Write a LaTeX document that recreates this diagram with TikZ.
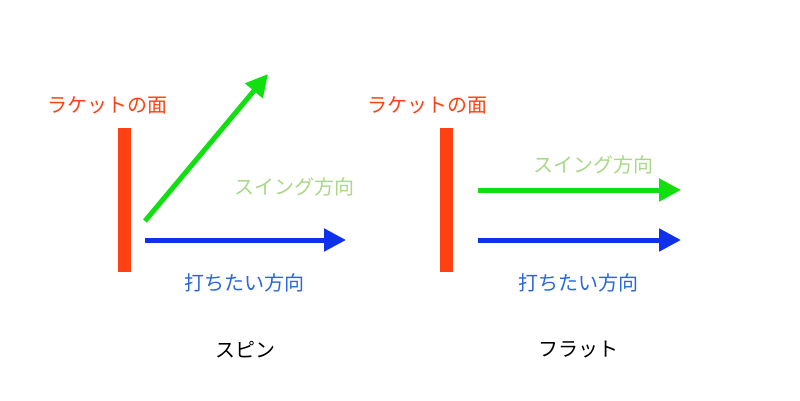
\documentclass[tikz,border=0pt]{standalone}
\usepackage{fontspec}
\setmainfont{Noto Sans CJK JP}
\usetikzlibrary{arrows.meta,positioning}
\definecolor{racket}{HTML}{FF4010}
\definecolor{swing}{HTML}{10E010}
\definecolor{swinglbl}{HTML}{A8D888}
\definecolor{hit}{HTML}{1030F0}
\definecolor{hitlbl}{HTML}{2A66E0}
\definecolor{turn}{HTML}{FFF040}
\tikzset{
  face/.style={fill=racket},
  lbl/.style={font=\fontsize{20}{24}\selectfont, inner sep=0pt},
  dir/.style={line width=5pt, -{Triangle[length=22pt,width=22pt]}}
}
\begin{document}
\begin{tikzpicture}[x=1pt,y=-1pt]
  \useasboundingbox (0,0) rectangle (800,401);
  % left: spin
  \fill[face] (118,128) rectangle (131,272);
  \node[lbl, text=racket] (faceA) at (107,105) {ラケットの面};
  \coordinate (gA) at (145,221);
  \coordinate (gB) at (268,74);
  \coordinate (bA) at (145,240);
  \coordinate (bB) at (346,240);
  \draw[dir, swing] (gA) -- (gB);
  \draw[dir, hit] (bA) -- (bB);
  \draw[turn, line width=4pt, -{Triangle[length=14pt,width=16pt]}]
    (216,238) .. controls (218,215) and (205,200) .. (180,189);
  \node[lbl, text=swinglbl] (swA) at (294,187) {スイング方向};
  \node[lbl, text=hitlbl] (hitA) at (244,283) {打ちたい方向};
  \node[lbl, text=black] (spin) at (245,350) {スピン};
  % right: flat
  \fill[face] (440,128) rectangle (453,272);
  \node[lbl, text=racket] (faceB) at (427,105) {ラケットの面};
  \coordinate (gC) at (478,190);
  \coordinate (gD) at (681,190);
  \coordinate (bC) at (478,240);
  \coordinate (bD) at (681,240);
  \draw[dir, swing] (gC) -- (gD);
  \draw[dir, hit] (bC) -- (bD);
  \node[lbl, text=swinglbl] (swB) at (593,165) {スイング方向};
  \node[lbl, text=hitlbl] (hitB) at (578,283) {打ちたい方向};
  \node[lbl, text=black] (flat) at (578,350) {フラット};
\end{tikzpicture}
\end{document}
